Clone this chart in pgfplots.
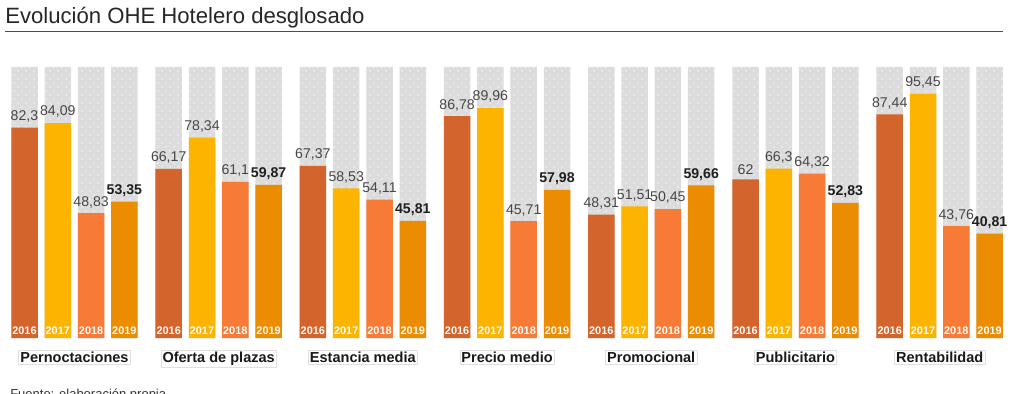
\documentclass[border=0pt]{standalone}
\usepackage{pgfplots}
\pgfplotsset{compat=1.18}
\usepackage{pgfplotstable}
\usepackage{fontspec}
\setmainfont{Liberation Sans}
\usetikzlibrary{patterns}
\definecolor{cA}{HTML}{D2642C}
\definecolor{cB}{HTML}{FDB400}
\definecolor{cC}{HTML}{F77A36}
\definecolor{cD}{HTML}{EC8C00}
\definecolor{bgbar}{HTML}{DCDCDC}
\definecolor{dotc}{HTML}{F4F4F4}
\definecolor{txt}{HTML}{333333}
\pgfdeclarepatternformonly{sparsedots}{\pgfpoint{-1pt}{-1pt}}{\pgfpoint{7pt}{7pt}}{\pgfpoint{6pt}{6pt}}{%
  \pgfpathcircle{\pgfpoint{1.5pt}{1.5pt}}{0.65pt}%
  \pgfpathcircle{\pgfpoint{4.5pt}{4.5pt}}{0.65pt}%
  \pgfusepath{fill}}
\tikzset{glab/.style={anchor=base, inner sep=1.2pt, draw=black!12, line width=0.4pt, text=black!90, font=\bfseries\fontsize{10.9}{13}\selectfont}}

% year 2016
\pgfplotstableread{
x y b
24.5 82.3 0
168.7 66.17 0
312.9 67.37 0
457.1 86.78 0
601.3 48.31 0
745.5 62 0
889.7 87.44 0
}\tA
% year 2017
\pgfplotstableread{
x y b
57.8 84.09 0
202.0 78.34 0
346.2 58.53 0
490.4 89.96 0
634.6 51.51 0
778.8 66.3 0
923.0 95.45 0
}\tB
% year 2018
\pgfplotstableread{
x y b
91.1 48.83 0
235.3 61.1 0
379.5 54.11 0
523.7 45.71 0
667.9 50.45 0
812.1 64.32 0
956.3 43.76 0
}\tC
% year 2019
\pgfplotstableread{
x y b
124.4 53.35 0
268.6 59.87 0
412.8 45.81 0
557.0 57.98 0
701.2 59.66 0
845.4 52.83 0
989.6 40.81 0
}\tD

\begin{document}
\begin{tikzpicture}
\begin{axis}[
  at={(0,0)}, anchor=south west,
  scale only axis, width=768pt, height=294.75pt,
  xmin=0, xmax=1024, ymin=-21.5, ymax=132.2,
  hide axis, clip=false,
  valbar/.style={ybar, bar width=26.5, bar shift=0pt, draw=none,
    nodes near coords={\pgfmathprintnumber[fixed, precision=2, use comma, assume math mode=true]{\pgfplotspointmeta}},
    every node near coord/.append style={anchor=south, yshift=0.4pt, inner xsep=0pt, text=txt!90, font=\fontsize{10.6}{12}\selectfont}},
  yearlab/.style={draw=none, mark=none, forget plot,
    nodes near coords={#1},
    every node near coord/.append style={anchor=center, yshift=5.3pt, text=white, font=\bfseries\fontsize{8.2}{9}\selectfont}},
]
% background bars
\addplot[ybar, bar width=26.5, bar shift=0pt, draw=none, fill=bgbar,
  postaction={pattern=sparsedots, pattern color=dotc}, forget plot] coordinates {
(24.5,106) (57.8,106) (91.1,106) (124.4,106)
(168.7,106) (202.0,106) (235.3,106) (268.6,106)
(312.9,106) (346.2,106) (379.5,106) (412.8,106)
(457.1,106) (490.4,106) (523.7,106) (557.0,106)
(601.3,106) (634.6,106) (667.9,106) (701.2,106)
(745.5,106) (778.8,106) (812.1,106) (845.4,106)
(889.7,106) (923.0,106) (956.3,106) (989.6,106)
};
\addplot[valbar, fill=cA] table[x=x, y=y] {\tA};
\addplot[valbar, fill=cB] table[x=x, y=y] {\tB};
\addplot[valbar, fill=cC] table[x=x, y=y] {\tC};
\addplot[valbar, fill=cD, every node near coord/.append style={font=\bfseries\fontsize{10.6}{12}\selectfont, text=black!88}] table[x=x, y=y] {\tD};
% year labels
\addplot[yearlab=2016] table[x=x, y=b] {\tA};
\addplot[yearlab=2017] table[x=x, y=b] {\tB};
\addplot[yearlab=2018] table[x=x, y=b] {\tC};
\addplot[yearlab=2019] table[x=x, y=b] {\tD};
% title and rule
\node[anchor=base west, inner sep=0pt, text=black!85, font=\fontsize{16.6}{19}\selectfont] at (axis cs:5,123.0) {Evolución OHE Hotelero desglosado};
\draw[black!70, line width=1.1pt] (axis cs:5,119.9) -- (axis cs:1003,119.9);
% group labels
\node[glab] at (axis cs:74.45,-9.66) {Pernoctaciones};
\node[glab] at (axis cs:218.65,-9.66) {Oferta de plazas};
\node[glab] at (axis cs:362.85,-9.66) {Estancia media};
\node[glab] at (axis cs:507.05,-9.66) {Precio medio};
\node[glab] at (axis cs:651.25,-9.66) {Promocional};
\node[glab] at (axis cs:795.45,-9.66) {Publicitario};
\node[glab] at (axis cs:939.65,-9.66) {Rentabilidad};
% source
\node[anchor=base west, inner sep=0pt, text=txt, font=\fontsize{9.75}{11}\selectfont] at (axis cs:10,-23.6) {Fuente: elaboración propia};
\end{axis}
\pgfresetboundingbox
\useasboundingbox (0,0) rectangle (768pt,294.75pt);
\end{tikzpicture}
\end{document}
